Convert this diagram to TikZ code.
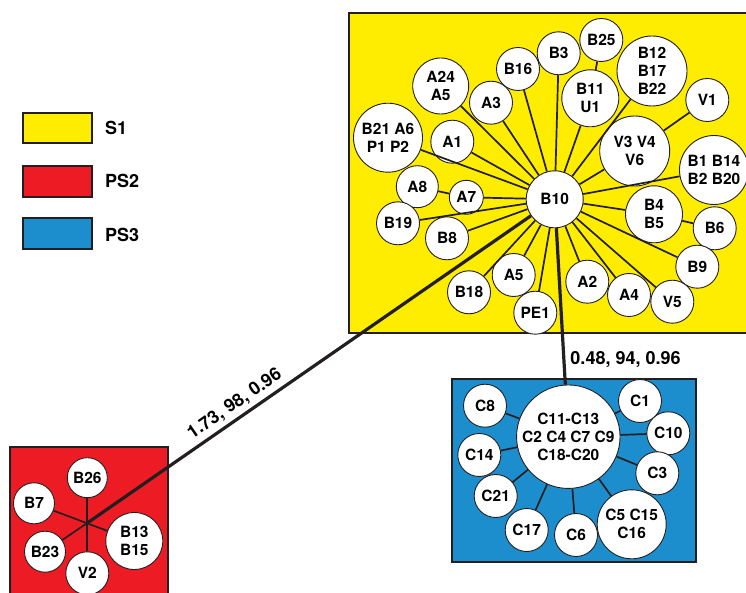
\documentclass[tikz,border=0pt]{standalone}
\usepackage{fontspec}
\setmainfont{TeX Gyre Heros}
\usepackage{xcolor}
\usepackage{tikz}

\definecolor{amarelo}{RGB}{255,237,0}
\definecolor{vermelho}{RGB}{237,28,36}
\definecolor{azul}{RGB}{28,142,206}
\definecolor{traco}{RGB}{35,31,32}

\newcommand{\fonteno}{\fontsize{15.5}{18}\selectfont\bfseries}
\newcommand{\fonterotulo}{\fontsize{18}{20}\selectfont\bfseries}

\begin{document}
\begin{tikzpicture}[
    x=1pt, y=-1pt,
    amostra/.style={circle, draw=traco, fill=white, line width=0.9pt, inner sep=0pt, align=center, font=\fonteno},
    pequeno/.style={amostra, minimum size=43pt},
    medio/.style={amostra, minimum size=57pt},
    grande/.style={amostra, minimum size=69pt},
    caixa/.style={draw=traco, line width=1.5pt},
    ligacao/.style={draw=traco, line width=1.7pt},
    ramo/.style={draw=traco, line width=3.2pt},
    rotulo/.style={font=\fonterotulo, inner sep=2pt},
]

\clip (0,0) rectangle (746,593);

% Legenda
\draw[caixa, fill=amarelo] (23,113) rectangle (92,143);
\draw[caixa, fill=vermelho] (23,166) rectangle (92,197);
\draw[caixa, fill=azul] (23,218) rectangle (92,249);
\node[rotulo, anchor=west] (leg1) at (103,128) {S1};
\node[rotulo, anchor=west] (leg2) at (103,181) {PS2};
\node[rotulo, anchor=west] (leg3) at (103,235) {PS3};

% Caixas dos grupos
\draw[caixa, fill=amarelo] (349,13) rectangle (760,333);
\draw[caixa, fill=azul] (452,379) rectangle (696,562);
\draw[caixa, fill=vermelho] (10,447) rectangle (168,600);

% Grupo S1
\node[medio] (b10) at (554.7,199.3) {B10};
\node[amostra, minimum size=56pt] (a24a5) at (440.7,86) {A24\\A5};
\node[pequeno] (a3) at (491,102.7) {A3};
\node[pequeno] (b16) at (518,69) {B16};
\node[pequeno] (b3) at (558.7,53.3) {B3};
\node[pequeno] (b25) at (601.3,40) {B25};
\node[medio] (b11u1) at (590.3,98.3) {B11\\U1};
\node[amostra, minimum size=70pt] (b12) at (652,71) {B12\\B17\\B22};
\node[pequeno] (v1) at (707.3,100) {V1};
\node[grande] (b21) at (388,137.7) {B21 A6\\P1 P2};
\node[pequeno] (a1) at (452.3,141.7) {A1};
\node[amostra, minimum size=70pt] (v3) at (634.7,151) {V3 V4\\V6};
\node[grande] (b1) at (714,170) {B1 B14\\B2 B20};
\node[amostra, minimum size=42pt] (a8) at (417.3,186.7) {A8};
\node[amostra, minimum size=34pt] (a7) at (466.3,197.3) {A7};
\node[pequeno] (b19) at (398,223.3) {B19};
\node[pequeno] (b8) at (447,238.3) {B8};
\node[medio] (b4b5) at (654,214.3) {B4\\B5};
\node[pequeno] (b6) at (714.7,228.3) {B6};
\node[pequeno] (b9) at (697.3,266.7) {B9};
\node[pequeno] (b18) at (469,292.3) {B18};
\node[pequeno] (a5) at (513.7,275) {A5};
\node[pequeno] (pe1) at (535.3,312.7) {PE1};
\node[pequeno] (a2) at (587.3,281.7) {A2};
\node[pequeno] (a4) at (629,295) {A4};
\node[pequeno] (v5) at (672.3,301.7) {V5};

\foreach \n in {a24a5,a3,b16,b3,b11u1,b12,v3,b1,b21,a1,a7,b19,b8,b4b5,b9,b18,a5,pe1,a2,a4,v5}
    \draw[ligacao] (b10) -- (\n);
\draw[ligacao] (a8) -- (a7);
\draw[ligacao] (b25) -- (b11u1);
\draw[ligacao] (v1) -- (v3);
\draw[ligacao] (b6) -- (b4b5);

% Grupo PS3
\node[amostra, minimum size=101pt] (cbig) at (568.3,436.7) {C11-C13\\C2 C4 C7 C9\\C18-C20};
\node[pequeno] (c8) at (485,405.7) {C8};
\node[pequeno] (c1) at (640,401) {C1};
\node[pequeno] (c10) at (668.3,433.3) {C10};
\node[pequeno] (c14) at (479.3,455) {C14};
\node[pequeno] (c3) at (657.3,473.3) {C3};
\node[pequeno] (c21) at (495.7,496) {C21};
\node[pequeno] (c17) at (526.7,530) {C17};
\node[pequeno] (c6) at (576,535) {C6};
\node[grande] (c5) at (631.7,524.3) {C5 C15\\C16};

\foreach \n in {c8,c1,c10,c14,c3,c21,c17,c6,c5}
    \draw[ligacao] (cbig) -- (\n);

% Grupo PS2
\coordinate (centro) at (87.3,523);
\node[amostra, minimum size=40pt] (b26) at (87.3,477.7) {B26};
\node[amostra, minimum size=41pt] (b7) at (34,503.3) {B7};
\node[amostra, minimum size=41pt] (b23) at (45,551.7) {B23};
\node[pequeno] (v2) at (87.3,573.3) {V2};
\node[medio] (b13) at (134.3,541) {B13\\B15};

\draw[ligacao] (b26) -- (v2);
\draw[ligacao] (b7) -- (b13);
\draw[ligacao] (b23) -- (centro);

% Ligacoes entre grupos
\draw[ramo] (centro) -- node[rotulo, pos=0.35, sloped, above=2pt] {1.73, 98, 0.96} (b10);
\draw[ramo] (b10) -- node[rotulo, pos=0.84, right=3pt] {0.48, 94, 0.96} (cbig);

\end{tikzpicture}
\end{document}
